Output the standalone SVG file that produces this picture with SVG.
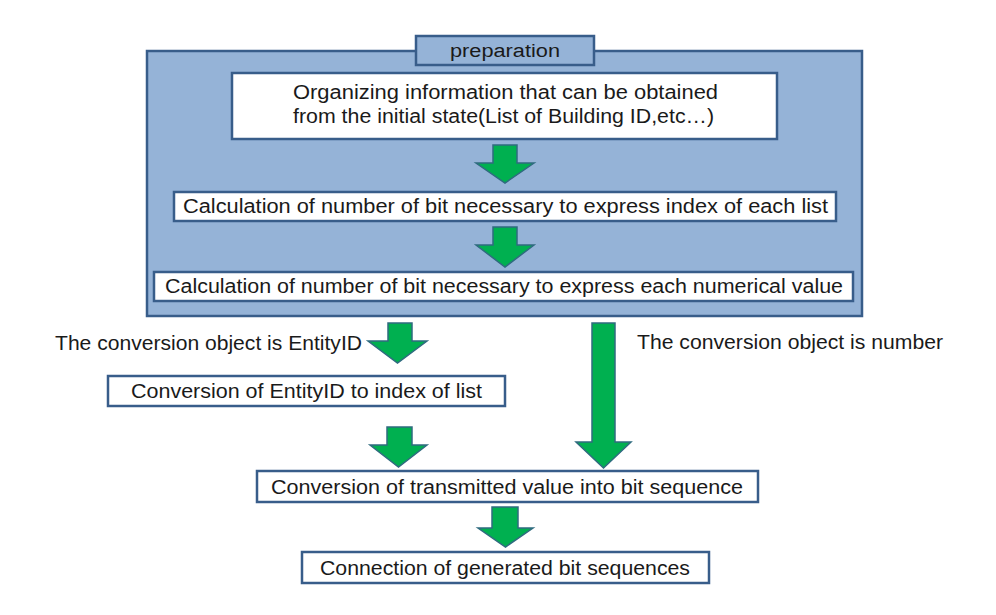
<svg xmlns="http://www.w3.org/2000/svg" width="996" height="615" viewBox="0 0 996 615">
<style>
.frame{fill:#95B3D7;stroke:#385D8A;stroke-width:2.5}
.box{fill:#FFFFFF;stroke:#385D8A;stroke-width:2.5}
.arrow{fill:#00B050;stroke:#2F6B7F;stroke-width:1.5;stroke-linejoin:miter}
text{font-family:"Liberation Sans",Arial,sans-serif;font-size:20px;fill:#1A1A1A}
</style>
<rect width="996" height="615" fill="#FFFFFF"/>
<g id="preparation">
<rect class="frame" x="147" y="51" width="715" height="265"/>
<rect class="frame" x="416" y="36" width="178" height="29"/>
<text x="450" y="57" textLength="110" lengthAdjust="spacingAndGlyphs" style="font-size:18px">preparation</text>
</g>
<g id="organize">
<rect class="box" x="232" y="73" width="545" height="66"/>
<text x="293" y="99" textLength="425" lengthAdjust="spacingAndGlyphs">Organizing information that can be obtained</text>
<text x="293" y="123" textLength="421" lengthAdjust="spacingAndGlyphs">from the initial state(List of Building ID,etc…)</text>
</g>
<g id="calc-index">
<rect class="box" x="174" y="192" width="662" height="29"/>
<text x="183" y="213" textLength="645" lengthAdjust="spacingAndGlyphs">Calculation of number of bit necessary to express index of each list</text>
</g>
<g id="calc-value">
<rect class="box" x="154" y="272" width="699" height="29"/>
<text x="165" y="293" textLength="678" lengthAdjust="spacingAndGlyphs">Calculation of number of bit necessary to express each numerical value</text>
</g>
<g id="conv-entity">
<rect class="box" x="108" y="376" width="397" height="30"/>
<text x="131" y="398" textLength="351" lengthAdjust="spacingAndGlyphs">Conversion of EntityID to index of list</text>
</g>
<g id="conv-bits">
<rect class="box" x="257" y="471" width="501" height="31"/>
<text x="271" y="494" textLength="472" lengthAdjust="spacingAndGlyphs">Conversion of transmitted value into bit sequence</text>
</g>
<g id="connect">
<rect class="box" x="302" y="552" width="407" height="31"/>
<text x="320" y="575" textLength="370" lengthAdjust="spacingAndGlyphs">Connection of generated bit sequences</text>
</g>
<g id="connectors">
<polygon class="arrow" points="493,145 517,145 517,163 534,163 505,183 476,163 493,163"/>
<polygon class="arrow" points="493,227 517,227 517,245 534,245 505,267 476,245 493,245"/>
<polygon class="arrow" points="388,323 412,323 412,341 427,341 397.5,363 368,341 388,341"/>
<polygon class="arrow" points="592,323 615,323 615,442 631,442 603.5,468 576,442 592,442"/>
<polygon class="arrow" points="387,427 412,427 412,445 427,445 398.5,467 370,445 387,445"/>
<polygon class="arrow" points="492,507 518,507 518,528 533,528 505.5,547 478,528 492,528"/>
<text x="55" y="350" textLength="307" lengthAdjust="spacingAndGlyphs">The conversion object is EntityID</text>
<text x="637" y="349" textLength="306" lengthAdjust="spacingAndGlyphs">The conversion object is number</text>
</g>
</svg>
